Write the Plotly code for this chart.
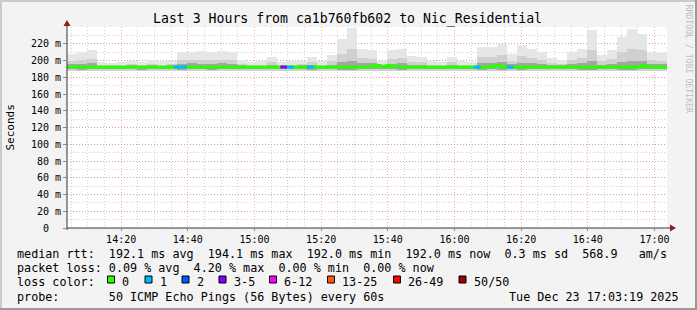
import plotly.graph_objects as go
import pandas as pd

# ---------------- data ----------------
title_text = "Last 3 Hours from ca1b760fb602 to Nic_Residential"
t_start = "2025-12-23 14:03:45"
t_end = "2025-12-23 17:03:45"

# smoke: 60 bins of 3 minutes (ms)
smoke_max = [208, 210, 213, 198, 197, 198, 200, 198, 201, 199,
             200, 210, 210, 211, 210, 211, 210, 201, 198, 199,
             204, 198, 199, 200, 204, 199, 206, 226, 239, 214,
             212, 200, 212, 214, 205, 204, 199, 198, 204, 199,
             198, 216, 216, 220, 208, 218, 214, 210, 203, 201,
             210, 214, 236, 206, 212, 228, 238, 232, 210, 209]
smoke_q90 = [200, 201, 202, 195, 195, 195, 196, 195, 196, 195,
             196, 201, 201, 201, 201, 201, 201, 196, 195, 195,
             198, 195, 195, 196, 198, 195, 199, 208, 214, 203,
             202, 196, 202, 203, 198, 198, 195, 195, 198, 195,
             195, 204, 204, 206, 200, 205, 203, 201, 197, 196,
             201, 203, 212, 199, 202, 210, 214, 212, 201, 200]
smoke_q75 = [196, 196, 197, 194, 194, 194, 195, 194, 195, 194,
             195, 196, 197, 196, 196, 197, 196, 195, 194, 194,
             195, 194, 194, 195, 195, 194, 195, 198, 200, 197,
             197, 195, 196, 197, 195, 195, 194, 194, 195, 194,
             194, 197, 197, 198, 196, 197, 197, 196, 195, 195,
             196, 197, 199, 195, 196, 198, 200, 199, 196, 196]
smoke_q10 = [189.5, 189.0, 189.5, 190.0, 189.5, 190.0, 189.5, 189.0, 190.0, 189.5,
             189.5, 189.0, 189.5, 189.5, 189.0, 189.5, 189.5, 190.0, 189.5, 190.0,
             189.5, 189.5, 190.0, 189.5, 189.0, 189.5, 189.5, 189.0, 189.0, 189.5,
             189.5, 190.0, 189.5, 189.0, 189.5, 189.5, 190.0, 189.5, 189.5, 190.0,
             189.5, 189.0, 189.5, 189.0, 189.5, 189.0, 189.5, 189.5, 190.0, 189.5,
             189.5, 189.0, 189.0, 189.5, 189.5, 189.0, 189.0, 189.5, 189.5, 189.5]
smoke_min = [188, 187, 188, 188, 187, 188, 188, 187, 188, 188,
             187, 187, 188, 187, 187, 188, 188, 188, 187, 188,
             188, 187, 188, 188, 187, 188, 188, 187, 187, 188,
             187, 188, 188, 187, 188, 188, 188, 187, 188, 188,
             188, 187, 188, 187, 188, 187, 188, 188, 188, 187,
             188, 187, 187, 188, 188, 187, 187, 188, 188, 188]

# median rtt: 90 bins of 2 minutes (ms) and lost pings per bin
median_rtt = [192.1, 192.2, 192.1, 192.0, 192.1, 192.1, 192.2, 192.1, 192.0, 192.1,
              192.1, 192.2, 192.1, 192.1, 192.0, 192.1, 192.2, 192.3, 192.1, 192.1,
              192.0, 192.1, 192.1, 192.2, 192.1, 192.0, 192.1, 192.1, 192.2, 192.1,
              192.1, 192.0, 192.2, 192.1, 192.1, 192.0, 192.2, 192.1, 192.1, 192.0,
              192.1, 192.1, 192.2, 192.1, 192.0, 192.2, 194.0, 192.3, 194.0, 192.2,
              192.1, 192.0, 192.1, 192.1, 192.2, 192.1, 192.0, 192.1, 192.1, 192.2,
              192.1, 192.1, 192.0, 192.2, 194.0, 192.3, 192.1, 192.1, 192.0, 192.1,
              192.2, 192.1, 192.1, 192.0, 192.1, 192.1, 192.2, 192.1, 192.0, 192.1,
              192.1, 192.2, 192.1, 192.1, 192.0, 192.1, 194.0, 192.3, 192.1, 192.0]
lost_pings = [0, 0, 0, 0, 0, 0, 0, 0, 0, 0,
              0, 0, 0, 0, 0, 0, 1, 1, 0, 0,
              0, 0, 0, 0, 0, 0, 0, 0, 0, 0,
              0, 0, 3, 1, 0, 0, 1, 0, 0, 0,
              0, 0, 0, 0, 0, 0, 0, 0, 0, 0,
              0, 0, 0, 0, 0, 0, 0, 0, 0, 0,
              0, 1, 0, 0, 0, 0, 1, 0, 0, 0,
              0, 0, 0, 0, 0, 0, 0, 0, 0, 0,
              0, 0, 0, 0, 0, 0, 0, 0, 0, 0]

loss_labels = ["0", "1", "2", "3-5", "6-12", "13-25", "26-49", "50/50"]
loss_colors = ["#26ff00", "#00b8ff", "#0059ff", "#7e00ff", "#ff00ff", "#ff5500", "#ff0000", "#a10000"]
loss_upper = [0, 1, 2, 5, 12, 25, 49, 50]

y_tick_vals = [0, 20, 40, 60, 80, 100, 120, 140, 160, 180, 200, 220]
y_tick_text = ["0\u00a0\u00a0", "20 m", "40 m", "60 m", "80 m", "100 m", "120 m",
               "140 m", "160 m", "180 m", "200 m", "220 m"]

legend_line1 = "median rtt:  192.1 ms avg  194.1 ms max  192.0 ms min  192.0 ms now  0.3 ms sd  568.9   am/s"
legend_line2 = "packet loss: 0.09 % avg  4.20 % max  0.00 % min  0.00 % now"
legend_line3 = "loss color:"
legend_line4 = "probe:       50 ICMP Echo Pings (56 Bytes) every 60s"
stamp_text = "Tue Dec 23 17:03:19 2025"
side_text = "RRDTOOL / TOBI OETIKER"

# ---------------- geometry helpers ----------------
W, H = 697, 310
L, R, T, B = 67, 667, 27, 228


def px(x):
    return (x - L) / (R - L)


def py(y):
    return (B - y) / (B - T)


mono = "DejaVu Sans Mono"

# ---------------- traces ----------------
smoke_edges = pd.date_range(t_start, periods=len(smoke_max) + 1, freq="3min")
smoke_centers = smoke_edges[:-1] + pd.Timedelta(seconds=90)
bw = 180000

fig = go.Figure()


def band(lo, hi, color):
    fig.add_trace(go.Bar(
        x=smoke_centers, base=lo, y=[h - l for h, l in zip(hi, lo)],
        width=[bw] * len(lo), marker=dict(color=color, line=dict(width=0)),
        hoverinfo="skip", showlegend=False))


band(smoke_min, smoke_max, "#e6e6e6")
band(smoke_min, smoke_q90, "#d0d0d0")
band(smoke_q10, smoke_q75, "#a4a4a4")

med_edges = pd.date_range(t_start, periods=len(median_rtt) + 1, freq="2min")
fig.add_trace(go.Scatter(
    x=list(med_edges), y=median_rtt + [median_rtt[-1]], mode="lines",
    line=dict(color=loss_colors[0], width=3, shape="hv"),
    hoverinfo="skip", showlegend=False))

for ci in range(1, len(loss_colors)):
    xs, ys = [], []
    for j, lp in enumerate(lost_pings):
        if lp > 0 and loss_upper[ci - 1] < lp <= loss_upper[ci]:
            xs += [med_edges[j], med_edges[j + 1], None]
            ys += [median_rtt[j], median_rtt[j], None]
    if xs:
        fig.add_trace(go.Scatter(x=xs, y=ys, mode="lines",
                                 line=dict(color=loss_colors[ci], width=3),
                                 hoverinfo="skip", showlegend=False))

# ---------------- layout ----------------
grid_major = "rgba(235,110,110,0.55)"
grid_minor = "rgba(150,150,150,0.45)"

fig.update_layout(
    width=W, height=H,
    margin=dict(l=L, r=W - R, t=T, b=H - B),
    paper_bgcolor="#f3f3f3", plot_bgcolor="#ffffff",
    barmode="overlay", bargap=0,
    font=dict(family=mono, size=10, color="#000000"),
    showlegend=False,
    xaxis=dict(
        type="date", range=[t_start, t_end],
        tick0="2025-12-23 14:00:00", dtick=1200000, tickformat="%H:%M",
        showgrid=True, gridcolor=grid_major, griddash="1px,2px", gridwidth=1,
        minor=dict(dtick=300000, tick0="2025-12-23 14:00:00", showgrid=True,
                   gridcolor=grid_minor, griddash="1px,2px", gridwidth=1),
        ticks="outside", ticklen=2, tickcolor="#888888",
        showline=False, zeroline=False, fixedrange=True,
        tickfont=dict(family=mono, size=10),
    ),
    yaxis=dict(
        range=[0, 240], tickvals=y_tick_vals, ticktext=y_tick_text,
        showgrid=True, gridcolor=grid_major, griddash="1px,2px", gridwidth=1,
        minor=dict(dtick=10, showgrid=True, gridcolor=grid_minor,
                   griddash="1px,2px", gridwidth=1),
        ticks="outside", ticklen=3, tickcolor="#888888",
        showline=False, zeroline=False, fixedrange=True,
        tickfont=dict(family=mono, size=10),
    ),
)

shapes = []
axis_col = "#333333"
arrow_col = "#8e1a1a"
# axes
shapes.append(dict(type="line", xref="paper", yref="paper", x0=px(L), x1=px(672),
                   y0=py(B), y1=py(B), line=dict(color=axis_col, width=1), layer="above"))
shapes.append(dict(type="line", xref="paper", yref="paper", x0=px(L), x1=px(L),
                   y0=py(B + 2), y1=py(23), line=dict(color=axis_col, width=1), layer="above"))
# arrows
shapes.append(dict(type="path", xref="paper", yref="paper",
                   path=f"M {px(670)} {py(B - 3.5)} L {px(676)} {py(B)} L {px(670)} {py(B + 3.5)} Z",
                   fillcolor=arrow_col, line=dict(width=0), layer="above"))
shapes.append(dict(type="path", xref="paper", yref="paper",
                   path=f"M {px(L - 3.5)} {py(26)} L {px(L)} {py(20)} L {px(L + 3.5)} {py(26)} Z",
                   fillcolor=arrow_col, line=dict(width=0), layer="above"))
# image border (3D shade)
shapes.append(dict(type="rect", xref="paper", yref="paper", x0=px(0), x1=px(2), y0=py(H), y1=py(0),
                   fillcolor="#cbcbcb", line=dict(width=0)))
shapes.append(dict(type="rect", xref="paper", yref="paper", x0=px(0), x1=px(W), y0=py(2), y1=py(0),
                   fillcolor="#cbcbcb", line=dict(width=0)))
shapes.append(dict(type="rect", xref="paper", yref="paper", x0=px(W - 2), x1=px(W), y0=py(H), y1=py(0),
                   fillcolor="#999999", line=dict(width=0)))
shapes.append(dict(type="rect", xref="paper", yref="paper", x0=px(0), x1=px(W), y0=py(H), y1=py(H - 2),
                   fillcolor="#999999", line=dict(width=0)))

annotations = []


def text(x, y, s, size=11.74, anchor="left", color="#000000", angle=0):
    annotations.append(dict(xref="paper", yref="paper", x=px(x), y=py(y),
                            text=s.replace(" ", "\u00a0"), showarrow=False,
                            xanchor=anchor, yanchor="middle", borderpad=0,
                            textangle=angle,
                            font=dict(family=mono, size=size, color=color)))


text(347.5, 19, title_text, size=13.2, anchor="center")
text(10, 127.5, "Seconds", size=11, anchor="center", angle=-90)
text(688.5, 59, side_text, size=8.2, anchor="center", color="#bdbdbd", angle=90)
text(16, 254, legend_line1)
text(16, 268, legend_line2)
text(16, 282, legend_line3)
text(16, 296.5, legend_line4)
text(680, 296.5, stamp_text, anchor="right")

box_x = [107.5, 145, 182, 219, 269.5, 327.5, 393.5, 459]
for bx, lab, col in zip(box_x, loss_labels, loss_colors):
    shapes.append(dict(type="rect", xref="paper", yref="paper",
                       x0=px(bx), x1=px(bx + 7), y0=py(283), y1=py(276),
                       fillcolor=col, line=dict(color="#000000", width=1)))
    text(bx + 13.5, 282, lab)

fig.update_layout(shapes=shapes, annotations=annotations)
fig.write_html("out.html")
